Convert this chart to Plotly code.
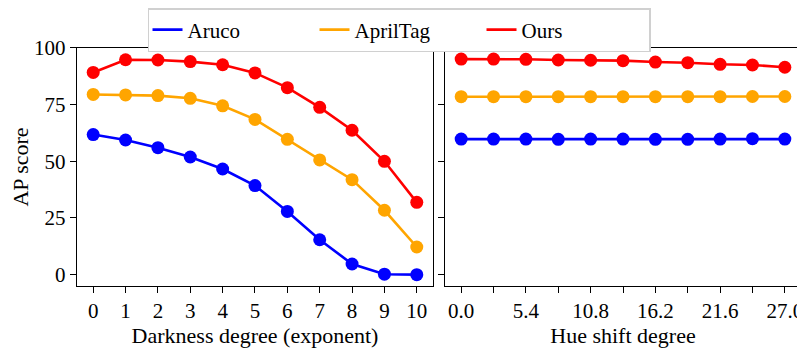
import plotly.graph_objects as go
from plotly.subplots import make_subplots

# darkness experiment
darkness = [0, 1, 2, 3, 4, 5, 6, 7, 8, 9, 10]
dark_aruco = [61.8, 59.4, 56.0, 51.9, 46.6, 39.3, 27.9, 15.4, 4.7, 0.2, 0.0]
dark_apriltag = [79.5, 79.3, 79.0, 77.8, 74.5, 68.5, 59.7, 50.6, 41.9, 28.4, 12.2]
dark_ours = [89.2, 94.8, 94.7, 94.0, 92.6, 89.0, 82.5, 73.8, 63.7, 50.0, 31.9]

# hue shift experiment
hue = [0.0, 2.7, 5.4, 8.1, 10.8, 13.5, 16.2, 18.9, 21.6, 24.3, 27.0]
hue_aruco = [59.8, 59.8, 59.8, 59.7, 59.8, 59.8, 59.7, 59.7, 59.8, 60.0, 59.8]
hue_apriltag = [78.5, 78.5, 78.5, 78.5, 78.5, 78.5, 78.5, 78.5, 78.5, 78.6, 78.6]
hue_ours = [95.1, 95.1, 95.0, 94.7, 94.6, 94.4, 93.8, 93.5, 92.8, 92.5, 91.5]

hue_ticktext = ["0.0", "", "5.4", "", "10.8", "", "16.2", "", "21.6", "", "27.0"]
y_ticks = [0, 25, 50, 75, 100]

names = ["Aruco", "AprilTag", "Ours"]
colors = ["#0000FF", "#FFA500", "#FF0000"]

font = "Liberation Serif"

fig = make_subplots(rows=1, cols=2, shared_yaxes=True)

for col, xs, series in [
    (1, darkness, [dark_aruco, dark_apriltag, dark_ours]),
    (2, hue, [hue_aruco, hue_apriltag, hue_ours]),
]:
    for i, ys in enumerate(series):
        fig.add_trace(
            go.Scatter(
                x=xs,
                y=ys,
                mode="lines+markers",
                name=names[i],
                line=dict(color=colors[i], width=2.6),
                marker=dict(color=colors[i], size=13),
                legendgroup=names[i],
                showlegend=False,
            ),
            row=1,
            col=col,
        )

# legend entries: line only, like the original
for i, name in enumerate(names):
    fig.add_trace(
        go.Scatter(
            x=[None],
            y=[None],
            mode="lines",
            name=name,
            line=dict(color=colors[i], width=2.6),
            legendgroup=name,
        ),
        row=1,
        col=1,
    )

axis_style = dict(
    showgrid=False,
    zeroline=False,
    showline=True,
    linecolor="black",
    linewidth=1.4,
    mirror=True,
    ticks="outside",
    ticklen=6,
    tickwidth=1.2,
    tickcolor="black",
    automargin=False,
    tickfont=dict(family=font, size=21, color="black"),
)

fig.update_xaxes(**axis_style)
fig.update_yaxes(**axis_style)

# page body adds ~8px margin, so the figure is a bit smaller than the window
fig.update_layout(
    width=797,
    height=340,
    margin=dict(l=0, r=0, t=0, b=0, autoexpand=False),
    paper_bgcolor="white",
    plot_bgcolor="white",
    font=dict(family=font, size=22, color="black"),
    xaxis=dict(
        domain=[0.0866, 0.5332],
        range=[-0.5, 10.5],
        tickvals=darkness,
        title=dict(text="Darkness degree (exponent)", standoff=3, font=dict(family=font, size=22)),
    ),
    xaxis2=dict(
        domain=[0.5483, 0.995],
        range=[-1.35, 28.35],
        tickvals=hue,
        ticktext=hue_ticktext,
        title=dict(text="Hue shift degree", standoff=3, font=dict(family=font, size=22)),
    ),
    yaxis=dict(
        domain=[0.1824, 0.8824],
        range=[-5, 100],
        tickvals=y_ticks,
        title=dict(text="AP score", standoff=8, font=dict(family=font, size=22)),
    ),
    yaxis2=dict(
        domain=[0.1824, 0.8824],
        range=[-5, 100],
        tickvals=y_ticks,
        showticklabels=False,
    ),
    legend=dict(
        orientation="h",
        x=0.4906,
        xanchor="center",
        y=1.0,
        yanchor="top",
        bordercolor="#d0d0d0",
        borderwidth=1.5,
        bgcolor="white",
        font=dict(family=font, size=21, color="black"),
        entrywidth=122,
    ),
)

fig.write_html("out.html")
